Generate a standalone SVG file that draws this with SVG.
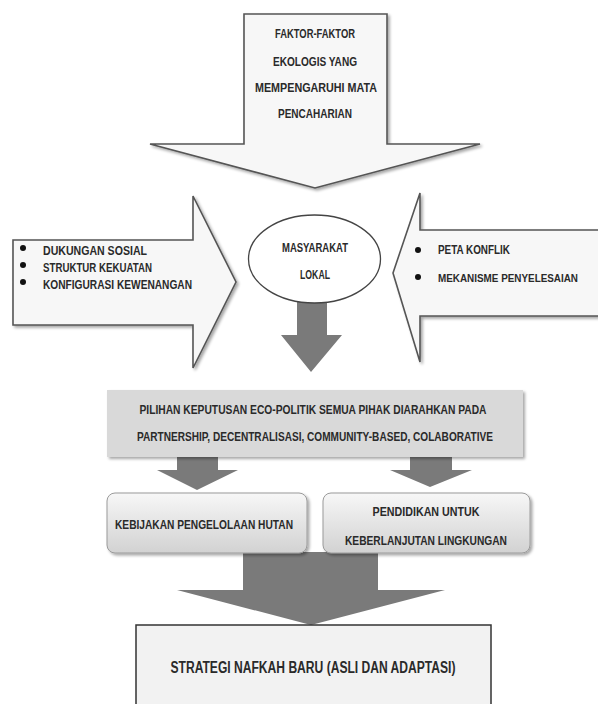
<svg xmlns="http://www.w3.org/2000/svg" width="598" height="704" viewBox="0 0 598 704">
<defs>
<linearGradient id="gBox" x1="0" y1="0" x2="0" y2="1">
<stop offset="0" stop-color="#f7f7f7"/>
<stop offset="1" stop-color="#d2d2d2"/>
</linearGradient>
<filter id="sh" x="-10%" y="-10%" width="130%" height="130%">
<feGaussianBlur in="SourceAlpha" stdDeviation="1.5"/>
<feOffset dx="1.5" dy="2" result="o"/>
<feComponentTransfer><feFuncA type="linear" slope="0.35"/></feComponentTransfer>
<feMerge><feMergeNode/><feMergeNode in="SourceGraphic"/></feMerge>
</filter>
</defs>
<style>
text{font-family:"Liberation Sans",Arial,sans-serif;font-weight:bold;fill:#2a2a2a;font-size:12px}
.c{text-anchor:middle}
.big{font-size:16px}
.sm{font-size:11px}
.wa{fill:#f7f7f7;stroke:#555;stroke-width:1.6}
.ga{fill:#7a7a7a;stroke:none}
</style>
<rect width="598" height="704" fill="#fff"/>

<g id="connectors">
<polygon class="ga" points="297,298 327,298 327,335 342,335 311,372 281,335 297,335"/>
<polygon class="ga" points="177,457 218,457 218,470 238,470 197,490 157,470 177,470"/>
<polygon class="ga" points="410,457 452,457 452,470 472,470 430,487 390,470 410,470"/>
<polygon class="ga" points="243,552 378,552 378,590 445,590 311,625 177,590 243,590"/>
</g>

<g id="faktor-ekologis">
<polygon class="wa" filter="url(#sh)" points="244,14 387,14 387,144 480,144 315,188 150,144 244,144"/>
<text class="c" x="315" y="38" textLength="80" lengthAdjust="spacingAndGlyphs">FAKTOR-FAKTOR</text>
<text class="c" x="315" y="66" textLength="84" lengthAdjust="spacingAndGlyphs">EKOLOGIS YANG</text>
<text class="c" x="316" y="92" textLength="122" lengthAdjust="spacingAndGlyphs">MEMPENGARUHI  MATA</text>
<text class="c" x="315" y="118" textLength="74" lengthAdjust="spacingAndGlyphs">PENCAHARIAN</text>
</g>

<g id="dukungan">
<polygon class="wa" filter="url(#sh)" points="13,240 193,240 193,196 236,282 193,368 193,325 13,325"/>
<circle cx="23" cy="248" r="3" fill="#111"/>
<circle cx="23" cy="265" r="3" fill="#111"/>
<circle cx="23" cy="282" r="3" fill="#111"/>
<text x="43" y="255" textLength="104" lengthAdjust="spacingAndGlyphs">DUKUNGAN SOSIAL</text>
<text x="43" y="272" textLength="109" lengthAdjust="spacingAndGlyphs">STRUKTUR KEKUATAN</text>
<text x="43" y="289" textLength="149" lengthAdjust="spacingAndGlyphs">KONFIGURASI KEWENANGAN</text>
</g>

<g id="konflik">
<polygon class="wa" filter="url(#sh)" points="600,230 420,230 420,193 393,273 420,362 420,316 600,316"/>
<circle cx="418" cy="250" r="3" fill="#111"/>
<circle cx="418" cy="277" r="3" fill="#111"/>
<text x="438" y="254" textLength="72" lengthAdjust="spacingAndGlyphs">PETA  KONFLIK</text>
<text class="sm" x="438" y="282" textLength="140" lengthAdjust="spacingAndGlyphs">MEKANISME PENYELESAIAN</text>
</g>

<g id="masyarakat">
<ellipse cx="314.5" cy="259" rx="66" ry="44" fill="#fff" stroke="#444" stroke-width="1.3"/>
<text class="c" x="315" y="252" textLength="66" lengthAdjust="spacingAndGlyphs">MASYARAKAT</text>
<text class="c" x="315" y="279" textLength="30" lengthAdjust="spacingAndGlyphs">LOKAL</text>
</g>

<g id="pilihan">
<rect x="107" y="390" width="416" height="67" fill="#d9d9d9" filter="url(#sh)"/>
<text class="c" x="313" y="414" textLength="347" lengthAdjust="spacingAndGlyphs">PILIHAN KEPUTUSAN ECO-POLITIK  SEMUA PIHAK DIARAHKAN PADA</text>
<text class="c" x="315" y="441" textLength="356" lengthAdjust="spacingAndGlyphs">PARTNERSHIP, DECENTRALISASI,  COMMUNITY-BASED,  COLABORATIVE</text>
</g>

<g id="kebijakan">
<rect x="107" y="493" width="200" height="60" rx="8" fill="url(#gBox)" stroke="#9a9a9a" stroke-width="1" filter="url(#sh)"/>
<text class="c" x="204" y="529" textLength="178" lengthAdjust="spacingAndGlyphs">KEBIJAKAN  PENGELOLAAN  HUTAN</text>
</g>

<g id="pendidikan">
<rect x="323" y="493" width="207" height="60" rx="8" fill="url(#gBox)" stroke="#9a9a9a" stroke-width="1" filter="url(#sh)"/>
<text class="c" x="426" y="516" textLength="107" lengthAdjust="spacingAndGlyphs">PENDIDIKAN  UNTUK</text>
<text class="c" x="426" y="545" textLength="162" lengthAdjust="spacingAndGlyphs">KEBERLANJUTAN  LINGKUNGAN</text>
</g>

<g id="strategi">
<rect x="136" y="625" width="355" height="90" fill="#f2f2f2" stroke="#333" stroke-width="1.5"/>
<text class="c big" x="313" y="673" textLength="285" lengthAdjust="spacingAndGlyphs">STRATEGI NAFKAH BARU (ASLI DAN ADAPTASI)</text>
</g>
</svg>
